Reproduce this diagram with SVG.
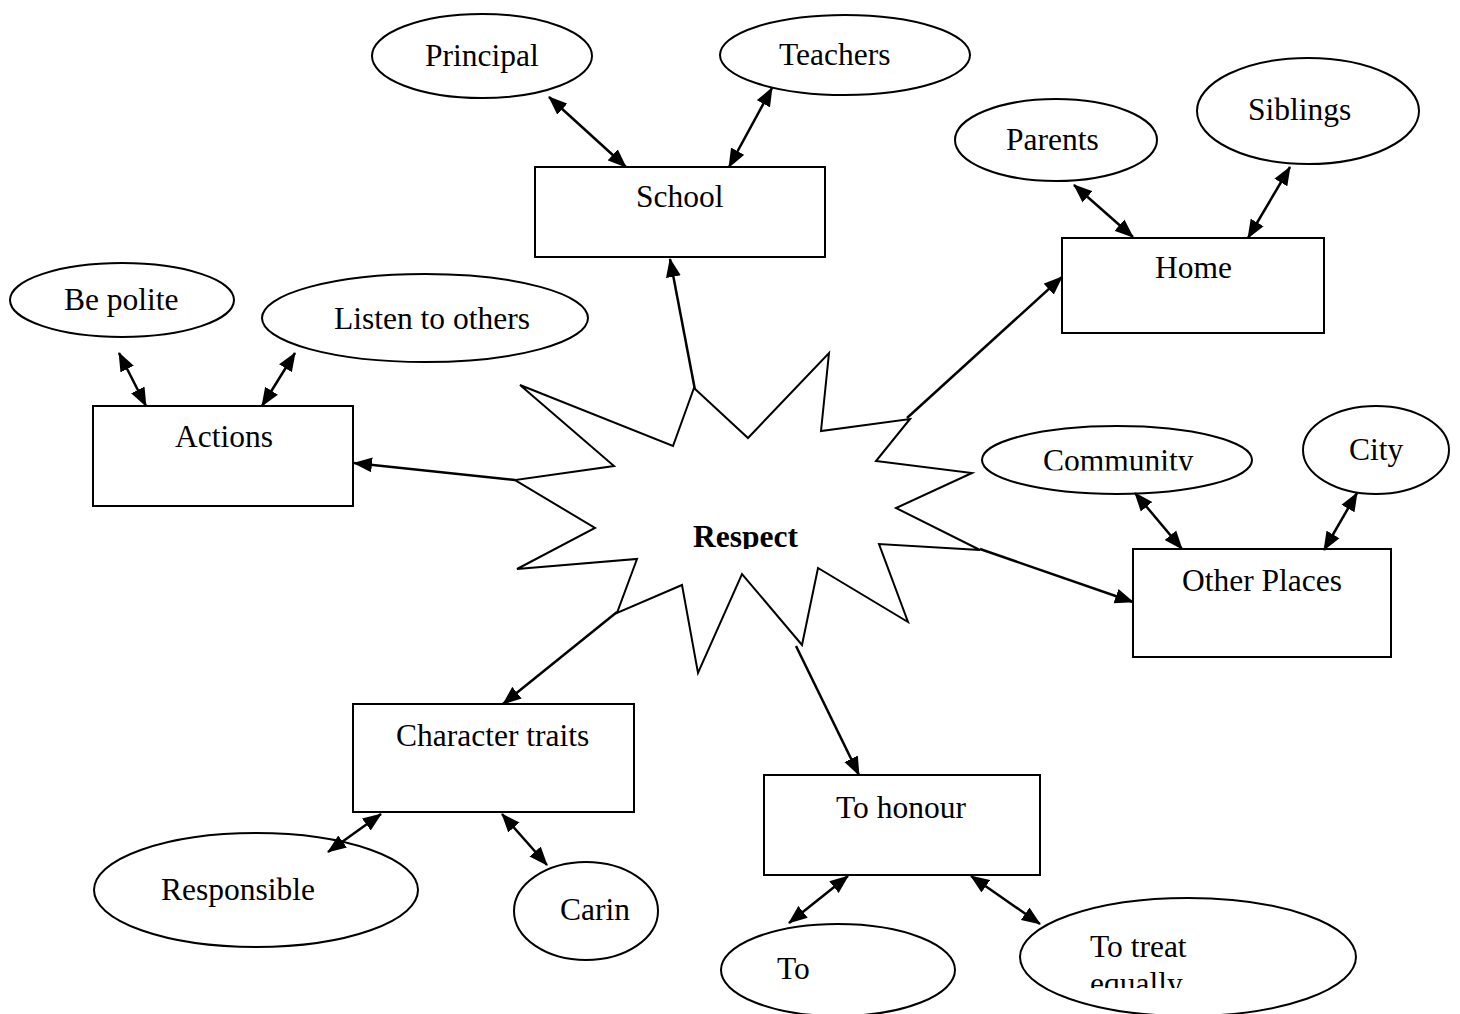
<svg xmlns="http://www.w3.org/2000/svg" width="1460" height="1014" viewBox="0 0 1460 1014">
<style>
.s{fill:#fff;stroke:#000;stroke-width:2}
.t{font-family:"Liberation Serif","Times New Roman",serif;font-size:31.5px;fill:#000}
.b{font-weight:bold}
.c{stroke:#000;stroke-width:2.5;fill:none}
.d{marker-start:url(#ah);marker-end:url(#ah)}
.e{marker-end:url(#ah)}
</style>
<defs>
<marker id="ah" viewBox="0 0 19 16" refX="18" refY="8" markerWidth="19" markerHeight="16" markerUnits="userSpaceOnUse" orient="auto-start-reverse">
<path d="M0,0.5 L19,8 L0,15.5 z" fill="#000"/>
</marker>
<clipPath id="clipResp"><rect x="0" y="0" width="1460" height="549"/></clipPath>
<clipPath id="clipComm"><rect x="0" y="0" width="1460" height="470.5"/></clipPath>
<clipPath id="clipEq"><rect x="0" y="0" width="1460" height="988"/></clipPath>
</defs>
<rect width="1460" height="1014" fill="#fff"/>

<g id="respect">
<polygon class="s" points="520,385 673,446 694,388 748,438 829,353 821,431 910,419 876,461 972,473 896,508 980,550 879,544 908,622 818,568 802,645 742,574 698,673 682,585 617,613 637,559 517,569 595,528 515,480 614,466"/>
<text class="t b" x="693" y="547" clip-path="url(#clipResp)">Respect</text>
</g>

<g id="school"><rect class="s" x="535" y="167" width="290" height="90"/><text class="t" x="636" y="207">School</text></g>
<g id="home"><rect class="s" x="1062" y="238" width="262" height="95"/><text class="t" x="1155" y="278">Home</text></g>
<g id="actions"><rect class="s" x="93" y="406" width="260" height="100"/><text class="t" x="175" y="447">Actions</text></g>
<g id="other-places"><rect class="s" x="1133" y="549" width="258" height="108"/><text class="t" x="1182" y="591">Other Places</text></g>
<g id="character-traits"><rect class="s" x="353" y="704" width="281" height="108"/><text class="t" x="396" y="746">Character traits</text></g>
<g id="to-honour"><rect class="s" x="764" y="775" width="276" height="100"/><text class="t" x="836" y="818">To honour</text></g>

<g id="principal"><ellipse class="s" cx="482" cy="56" rx="110" ry="42"/><text class="t" x="425" y="66">Principal</text></g>
<g id="teachers"><ellipse class="s" cx="845" cy="55" rx="125" ry="40"/><text class="t" x="779" y="65">Teachers</text></g>
<g id="parents"><ellipse class="s" cx="1056" cy="140" rx="101" ry="41"/><text class="t" x="1006" y="150">Parents</text></g>
<g id="siblings"><ellipse class="s" cx="1308" cy="111" rx="111" ry="53"/><text class="t" x="1248" y="120">Siblings</text></g>
<g id="be-polite"><ellipse class="s" cx="122" cy="300" rx="112" ry="37"/><text class="t" x="64" y="310">Be polite</text></g>
<g id="listen"><ellipse class="s" cx="425" cy="318" rx="163" ry="44"/><text class="t" x="334" y="329">Listen to others</text></g>
<g id="community"><ellipse class="s" cx="1117" cy="460" rx="135" ry="34"/><text class="t" x="1043" y="471" clip-path="url(#clipComm)">Community</text></g>
<g id="city"><ellipse class="s" cx="1376" cy="450" rx="73" ry="44"/><text class="t" x="1349" y="460">City</text></g>
<g id="responsible"><ellipse class="s" cx="256" cy="890" rx="162" ry="57"/><text class="t" x="161" y="900">Responsible</text></g>
<g id="carin"><ellipse class="s" cx="586" cy="911" rx="72" ry="49"/><text class="t" x="560" y="920">Carin</text></g>
<g id="to"><ellipse class="s" cx="838" cy="970" rx="117" ry="46"/><text class="t" x="777" y="979">To</text></g>
<g id="to-treat"><ellipse class="s" cx="1188" cy="957" rx="168" ry="59"/><text class="t" x="1090" y="957">To treat</text><text class="t" x="1090" y="994" clip-path="url(#clipEq)">equally</text></g>

<g id="connectors">
<line class="c e" x1="695" y1="390" x2="670" y2="259"/>
<line class="c e" x1="907" y1="418" x2="1062" y2="277"/>
<line class="c e" x1="515" y1="480" x2="354" y2="463"/>
<line class="c e" x1="980" y1="549" x2="1133" y2="602"/>
<line class="c e" x1="617" y1="612" x2="503" y2="704"/>
<line class="c e" x1="796" y1="646" x2="859" y2="775"/>
<line class="c d" x1="549" y1="97" x2="626" y2="167"/>
<line class="c d" x1="772" y1="88" x2="729" y2="167"/>
<line class="c d" x1="1074" y1="185" x2="1133" y2="237"/>
<line class="c d" x1="1290" y1="167" x2="1248" y2="238"/>
<line class="c d" x1="119" y1="353" x2="146" y2="406"/>
<line class="c d" x1="295" y1="353" x2="262" y2="406"/>
<line class="c d" x1="1135" y1="493" x2="1182" y2="549"/>
<line class="c d" x1="1357" y1="493" x2="1324" y2="550"/>
<line class="c d" x1="381" y1="814" x2="328" y2="852"/>
<line class="c d" x1="502" y1="814" x2="547" y2="865"/>
<line class="c d" x1="848" y1="876" x2="789" y2="923"/>
<line class="c d" x1="971" y1="876" x2="1040" y2="924"/>
</g>
</svg>
